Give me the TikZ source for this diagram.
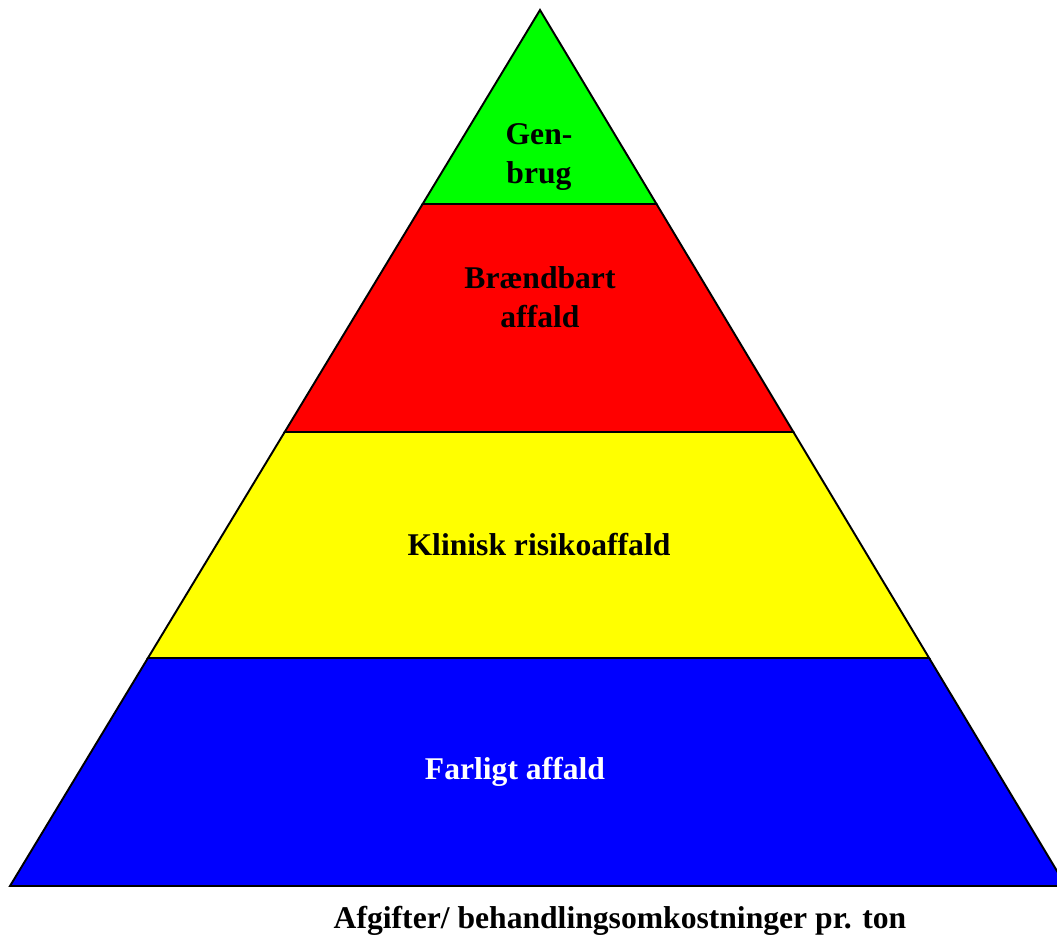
\documentclass[tikz,border=0pt]{standalone}
\usepackage{fontspec}
\setmainfont{Liberation Serif}
\usetikzlibrary{calc,positioning}
\definecolor{pyramidGreen}{RGB}{0,255,0}
\definecolor{pyramidRed}{RGB}{255,0,0}
\definecolor{pyramidYellow}{RGB}{255,255,0}
\definecolor{pyramidBlue}{RGB}{0,0,255}
\tikzstyle{every node}=[font=\bfseries\fontsize{18}{22}\selectfont, text centered, align=center]
\tikzstyle{band} = [draw, line width=1.1pt, line join=miter]

\begin{document}
\begin{tikzpicture}[x=0.02cm,y=-0.02cm]
    \useasboundingbox (0,0) rectangle (1057,936);
    \coordinate (apexNode) at (540,10);
    \coordinate (leftNode) at (10,886);
    \coordinate (rightNode) at (1066,886);

    % band borders, measured from the top
    \coordinate (l1) at (barycentric cs:leftNode=0.2215,apexNode=0.7785);
    \coordinate (r1) at (barycentric cs:rightNode=0.2215,apexNode=0.7785);
    \coordinate (l2) at (barycentric cs:leftNode=0.4817,apexNode=0.5183);
    \coordinate (r2) at (barycentric cs:rightNode=0.4817,apexNode=0.5183);
    \coordinate (l3) at (barycentric cs:leftNode=0.7397,apexNode=0.2603);
    \coordinate (r3) at (barycentric cs:rightNode=0.7397,apexNode=0.2603);

    \begin{scope}
      \clip (0,0) rectangle (1057,936);
      \filldraw[band, fill=pyramidBlue] (l3) -- (r3) -- (rightNode) -- (leftNode) -- cycle;
      \filldraw[band, fill=pyramidYellow] (l2) -- (r2) -- (r3) -- (l3) -- cycle;
      \filldraw[band, fill=pyramidRed] (l1) -- (r1) -- (r2) -- (l2) -- cycle;
      \filldraw[band, fill=pyramidGreen] (apexNode) -- (r1) -- (l1) -- cycle;
    \end{scope}

    \node (genbrug) at (539,157) {Gen-\\brug};
    \node (braendbart) at (540,297) {Brændbart\\affald};
    \node (klinisk) at (539,545) {Klinisk risikoaffald};
    \node[text=white] (farligt) at (515,772) {Farligt affald};
    \node (afgifter) at (620,921) {Afgifter/ behandlingsomkostninger pr. ton};

\end{tikzpicture}
\end{document}
